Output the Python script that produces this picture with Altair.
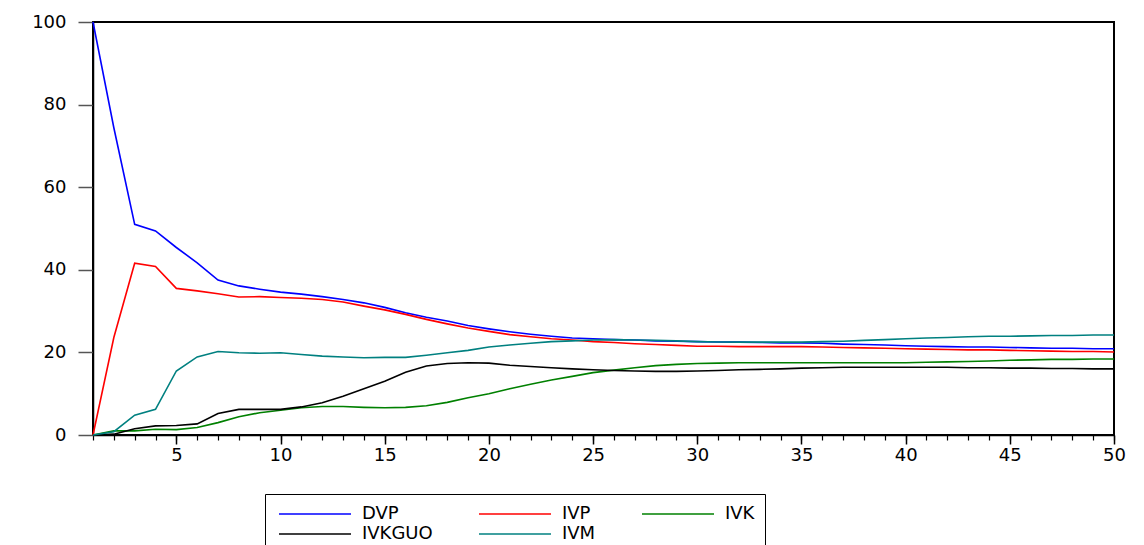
import altair as alt
import pandas as pd

periods = list(range(1, 51))

dvp = [100.0, 74.4, 51.0, 49.4, 45.4, 41.7, 37.5, 36.1, 35.3, 34.6,
       34.1, 33.5, 32.8, 32.0, 30.9, 29.6, 28.5, 27.6, 26.5, 25.7,
       25.0, 24.4, 23.9, 23.5, 23.3, 23.1, 23.0, 22.8, 22.7, 22.6,
       22.5, 22.5, 22.4, 22.3, 22.3, 22.2, 22.0, 21.9, 21.8, 21.6,
       21.5, 21.4, 21.3, 21.3, 21.2, 21.1, 21.0, 21.0, 20.9, 20.9]

ivp = [0.0, 23.6, 41.6, 40.8, 35.5, 34.9, 34.2, 33.4, 33.5, 33.3,
       33.1, 32.8, 32.2, 31.2, 30.3, 29.2, 28.0, 26.9, 25.9, 25.1,
       24.3, 23.8, 23.3, 23.0, 22.6, 22.4, 22.1, 21.9, 21.7, 21.5,
       21.5, 21.4, 21.4, 21.4, 21.4, 21.3, 21.2, 21.1, 21.0, 20.9,
       20.8, 20.7, 20.6, 20.6, 20.5, 20.4, 20.3, 20.2, 20.2, 20.1]

ivk = [0.0, 1.0, 1.0, 1.4, 1.3, 1.8, 3.0, 4.4, 5.4, 6.0,
       6.6, 6.9, 6.9, 6.7, 6.6, 6.7, 7.1, 7.9, 9.0, 10.0,
       11.2, 12.3, 13.3, 14.2, 15.1, 15.7, 16.3, 16.8, 17.1, 17.3,
       17.4, 17.5, 17.5, 17.5, 17.5, 17.5, 17.5, 17.5, 17.5, 17.5,
       17.6, 17.7, 17.8, 17.9, 18.1, 18.2, 18.3, 18.3, 18.4, 18.4]

ivkguo = [0.0, 0.2, 1.5, 2.2, 2.3, 2.7, 5.2, 6.2, 6.2, 6.2,
          6.8, 7.8, 9.4, 11.2, 13.0, 15.2, 16.7, 17.3, 17.5, 17.4,
          16.9, 16.6, 16.3, 16.0, 15.8, 15.6, 15.5, 15.4, 15.4, 15.5,
          15.6, 15.8, 15.9, 16.0, 16.2, 16.3, 16.4, 16.4, 16.4, 16.4,
          16.4, 16.4, 16.3, 16.3, 16.2, 16.2, 16.1, 16.1, 16.0, 16.0]

ivm = [0.0, 0.8, 4.8, 6.2, 15.5, 18.9, 20.2, 19.9, 19.8, 19.9,
       19.5, 19.1, 18.9, 18.7, 18.8, 18.8, 19.3, 19.9, 20.5, 21.3,
       21.8, 22.2, 22.6, 22.8, 23.0, 23.1, 23.0, 22.9, 22.8, 22.6,
       22.5, 22.5, 22.5, 22.5, 22.5, 22.6, 22.7, 22.9, 23.1, 23.3,
       23.5, 23.6, 23.8, 23.9, 23.9, 24.0, 24.1, 24.1, 24.2, 24.2]

series_names = ["DVP", "IVP", "IVK", "IVKGUO", "IVM"]
series_colors = ["#0000FF", "#FF0000", "#008000", "#000000", "#008080"]
series_values = [dvp, ivp, ivk, ivkguo, ivm]

x_major = [5, 10, 15, 20, 25, 30, 35, 40, 45, 50]
y_ticks = [0, 20, 40, 60, 80, 100]

rows = []
for name, vals in zip(series_names, series_values):
    for p, v in zip(periods, vals):
        rows.append({"period": p, "value": v, "series": name})
df = pd.DataFrame(rows)

FONT = "DejaVu Sans"

xscale = alt.Scale(domain=[1, 50], nice=False, zero=False)

# trailing no-break spaces widen the legend frame to the right without visible text
label_expr = "datum.value == 'IVK' ? 'IVK" + "\u00a0" * 31 + "' : datum.label"

lines = alt.Chart(df).mark_line(strokeWidth=1.6).encode(
    x=alt.X("period:Q", scale=xscale,
            axis=alt.Axis(values=x_major, tickSize=9, labelPadding=2,
                          title=None, grid=False, domainColor="black",
                          domainWidth=1.5, tickColor="black", tickWidth=1.5,
                          labelFont=FONT, labelFontSize=18, labelColor="black",
                          orient="bottom", labelFlush=False)),
    y=alt.Y("value:Q", scale=alt.Scale(domain=[0, 100], nice=False),
            axis=alt.Axis(values=y_ticks, tickSize=15, labelPadding=12,
                          title=None, grid=False, domainColor="black",
                          domainWidth=1.5, tickColor="#555555", tickWidth=1.5,
                          labelFont=FONT, labelFontSize=18, labelColor="black",
                          labelFlush=False)),
    color=alt.Color("series:N",
                    scale=alt.Scale(domain=series_names, range=series_colors),
                    sort=series_names,
                    legend=alt.Legend(
                        title=None, orient="none", legendX=172, legendY=472,
                        columns=3, columnPadding=42, rowPadding=1,
                        symbolType="M-0.667,0H7.333", symbolSize=324,
                        symbolStrokeWidth=1.5, labelFont=FONT,
                        labelFontSize=18, labelColor="black", labelOffset=67,
                        labelExpr=label_expr, labelLimit=400,
                        strokeColor="black", padding=10, fillColor="white",
                        direction="horizontal")),
)

minor = alt.Chart(df).mark_rule(opacity=0).encode(
    x=alt.X("period:Q", scale=xscale,
            axis=alt.Axis(values=periods, tickSize=5, labels=False,
                          domain=False, grid=False, title=None,
                          tickColor="black", tickWidth=1.2, orient="bottom")),
)

chart = alt.layer(lines, minor).resolve_axis(x="independent").properties(
    width=1021, height=413,
    autosize=alt.AutoSizeParams(type="none"),
    padding={"left": 85, "top": 14, "right": 20, "bottom": 110},
    view=alt.ViewBackground(stroke="#000000", strokeWidth=2),
).configure_view(stroke="#000000", strokeWidth=2).configure(background="white")

chart.save("out.html", embed_options={"renderer": "svg", "actions": False})
